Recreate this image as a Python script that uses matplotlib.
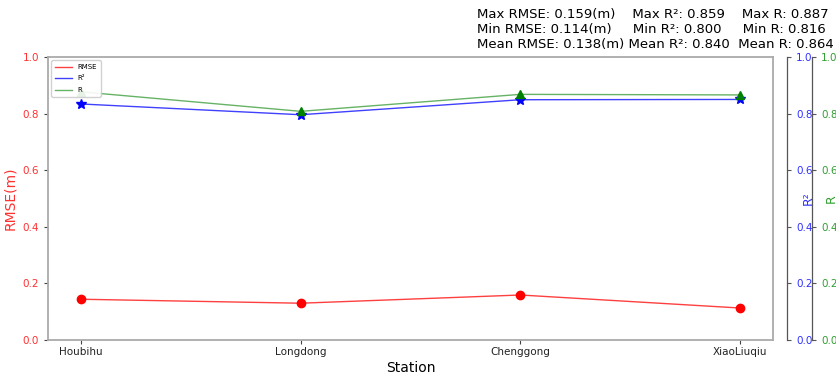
import numpy as np
import matplotlib.pyplot as plt

stations = ["Houbihu", "Longdong", "Chenggong", "XiaoLiuqiu"]
rmse = [0.144, 0.130, 0.159, 0.113]
r2 = [0.834, 0.796, 0.849, 0.850]
r = [0.877, 0.808, 0.868, 0.866]

stats_lines = [
    "Max RMSE: 0.159(m)    Max R\u00b2: 0.859    Max R: 0.887",
    "Min RMSE: 0.114(m)     Min R\u00b2: 0.800     Min R: 0.816",
    "Mean RMSE: 0.138(m) Mean R\u00b2: 0.840  Mean R: 0.864",
]

x = np.arange(len(stations))

fig = plt.figure(figsize=(8.37, 3.74), dpi=100)
ax = fig.add_axes([48/837, 1-340/374, 725/837, 283/374])
ax2 = ax.twinx()
ax3 = ax.twinx()

ax2.spines["right"].set_position(("outward", 10))
ax3.spines["right"].set_position(("outward", 28))

l1, = ax.plot(x, rmse, color="red", lw=1, alpha=0.75, label="RMSE")
ax.plot(x, rmse, "o", color="red", ms=6)
l2, = ax2.plot(x, r2, color="blue", lw=1, alpha=0.75, label="R\u00b2")
ax2.plot(x, r2, "*", color="blue", ms=7)
l3, = ax3.plot(x, r, color="green", lw=1, alpha=0.6, label="R")
ax3.plot(x, r, "^", color="green", ms=6)

for a in (ax, ax2, ax3):
    a.set_ylim(0, 1.0)
    a.set_yticks(np.arange(0, 1.01, 0.2))

ax.set_xticks(x)
ax.set_xticklabels(stations, fontsize=7.5)
ax.tick_params(axis="y", labelsize=7.5, colors="#444444", length=3)
ax.tick_params(axis="x", length=3, pad=2, colors="#444444", labelcolor="#222222")
for lab in ax.get_yticklabels():
    lab.set_color("#ff3030")
ax2.tick_params(axis="y", labelsize=7.5, labelcolor="#3030ff", length=3, colors="#555555")
ax3.tick_params(axis="y", labelsize=7.5, labelcolor="#30a030", length=3, colors="#555555")

for s in ax.spines.values():
    s.set_color("#aaaaaa")
    s.set_linewidth(1.3)
for a in (ax2, ax3):
    for k in ("left", "top", "bottom"):
        a.spines[k].set_visible(False)
    a.spines["right"].set_color("#555555")
    a.spines["right"].set_linewidth(0.9)

ax.set_xlabel("Station", fontsize=10)
ax.xaxis.set_label_coords(0.5, -0.075)
ax.set_ylabel("RMSE(m)", fontsize=10, color="#ff3030")
ax.yaxis.set_label_coords(-0.043, 0.5)
ax2.set_ylabel("R\u00b2", fontsize=9, color="#3030ff")
ax3.set_ylabel("R", fontsize=9, color="#30a030")
ax2.yaxis.set_label_coords(1.04, 0.5)
ax3.yaxis.set_label_coords(1.072, 0.5)

ax3.legend(handles=[l1, l2, l3], loc="upper left", fontsize=5, handlelength=2.5,
           borderpad=0.5, labelspacing=0.8, framealpha=0.9)

fig.text(477/837, 1-8/374, "\n".join(stats_lines), fontsize=9.5, va="top", ha="left",
         linespacing=1.2)

fig.savefig("out.png", dpi=100)
